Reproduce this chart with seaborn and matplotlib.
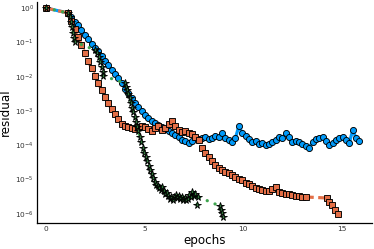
import numpy as np
import matplotlib
matplotlib.use("Agg")
import matplotlib.pyplot as plt
import seaborn as sns
from matplotlib.ticker import NullLocator, FixedLocator

# ---- data (epochs, log10 of residual) ----
blue_epochs = [0, 1.12, 1.29, 1.46, 1.63, 1.80, 1.97, 2.14, 2.31, 2.48, 2.65, 2.82, 2.99, 3.16,
               3.33, 3.50, 3.67, 3.84, 4.01, 4.18, 4.35, 4.52, 4.69, 4.86, 5.03, 5.20, 5.37, 5.54,
               5.71, 5.88, 6.05, 6.22, 6.39, 6.56, 6.73, 6.90, 7.07, 7.24, 7.41, 7.58, 7.75, 7.92,
               8.09, 8.26, 8.43, 8.60, 8.77, 8.94, 9.11, 9.28, 9.45, 9.62, 9.79, 9.96, 10.13, 10.30,
               10.47, 10.64, 10.81, 10.98, 11.15, 11.32, 11.49, 11.66, 11.83, 12.00, 12.17, 12.34,
               12.51, 12.68, 12.85, 13.02, 13.19, 13.36, 13.53, 13.70, 13.87, 14.04, 14.21, 14.38,
               14.55, 14.72, 14.89, 15.06, 15.23, 15.40, 15.57, 15.74, 15.91]
blue_log10 = [0.0, -0.146, -0.262, -0.394, -0.510, -0.641, -0.773, -0.904, -1.035, -1.166, -1.268,
              -1.399, -1.531, -1.662, -1.793, -1.924, -2.041, -2.187, -2.347, -2.478, -2.624, -2.770,
              -2.886, -3.017, -3.120, -3.207, -3.294, -3.353, -3.411, -3.469,
              -3.528, -3.586, -3.644, -3.703, -3.761, -3.848, -3.878, -3.936, -3.878, -3.761, -3.819,
              -3.790, -3.761, -3.819, -3.790, -3.732, -3.761, -3.644, -3.790, -3.848, -3.907, -3.790,
              -3.440, -3.644, -3.732, -3.819, -3.907, -3.878, -3.965, -3.936, -3.994, -3.965, -3.907,
              -3.848, -3.761, -3.790, -3.644, -3.761, -3.907, -3.878, -3.907, -3.965, -4.023, -4.082,
              -3.907, -3.819, -3.790, -3.761, -3.878, -3.994, -3.936, -3.848, -3.790, -3.761, -3.848,
              -3.936, -3.557, -3.790, -3.878]

orange_epochs = [0, 1.12, 1.29, 1.46, 1.63, 1.80, 1.97, 2.14, 2.31, 2.48, 2.65, 2.82, 2.99, 3.16,
                 3.33, 3.50, 3.67, 3.84, 4.01, 4.18, 4.35, 4.52, 4.69, 4.86, 5.03, 5.20, 5.37, 5.54,
                 5.71, 5.88, 6.05, 6.22, 6.39, 6.56, 6.73, 6.90, 7.07, 7.24, 7.41, 7.58, 7.75, 7.92,
                 8.09, 8.26, 8.43, 8.60, 8.77, 8.94, 9.11, 9.28, 9.45, 9.62, 9.79, 9.96, 10.13, 10.30,
                 10.47, 10.64, 10.81, 10.98, 11.15, 11.32, 11.49, 11.66, 11.83, 12.00, 12.17, 12.34,
                 12.51, 12.68, 12.85, 13.02, 13.19, 14.26, 14.39, 14.52, 14.67, 14.82]
orange_log10 = [0.0, -0.146, -0.379, -0.612, -0.845, -1.079, -1.312, -1.545, -1.749, -1.968, -2.172,
                -2.391, -2.595, -2.784, -2.945, -3.090, -3.236, -3.382, -3.440, -3.469, -3.499,
                -3.528, -3.469, -3.440, -3.469, -3.528, -3.586, -3.499, -3.440, -3.557, -3.499,
                -3.382, -3.294, -3.440, -3.557, -3.615, -3.586, -3.644, -3.673, -3.761, -3.848,
                -4.082, -4.227, -4.344, -4.461, -4.577, -4.665, -4.723, -4.781, -4.810, -4.869,
                -4.927, -4.985, -5.015, -5.102, -5.131, -5.190, -5.248, -5.277, -5.306, -5.335,
                -5.335, -5.277, -5.219, -5.364, -5.394, -5.423, -5.423, -5.452, -5.481, -5.481,
                -5.510, -5.510, -5.539, -5.656, -5.743, -5.889, -6.006]

green_epochs = [0, 1.117, 1.193, 1.269, 1.320, 1.371, 1.421, 1.472, 2.487, 2.589, 2.690, 2.766,
                2.843, 2.893, 2.919, 4.010, 4.061, 4.112, 4.162, 4.264, 4.315, 4.391, 4.442, 4.518,
                4.569, 4.645, 4.695, 4.772, 4.848, 4.924, 5.000, 5.076, 5.152, 5.228, 5.305, 5.381,
                5.457, 5.533, 5.609, 5.685, 5.761, 5.838, 5.914, 5.990, 6.066, 6.142, 6.218, 6.294,
                6.371, 6.447, 6.523, 6.599, 6.675, 6.751, 6.827, 6.904, 6.980, 7.056, 7.132, 7.208,
                7.284, 7.360, 7.437, 7.513, 7.589, 7.665, 7.741, 8.832, 8.883, 8.934, 8.985]
green_log10 = [0.0, -0.146, -0.262, -0.408, -0.554, -0.729, -0.875, -0.991, -1.224, -1.312, -1.429,
               -1.574, -1.720, -1.866, -1.983, -2.187, -2.303, -2.391, -2.507, -2.624, -2.770,
               -2.915, -3.032, -3.178, -3.324, -3.469, -3.586, -3.761, -3.907, -4.082, -4.227,
               -4.344, -4.461, -4.606, -4.723, -4.840, -4.956, -5.073, -5.160, -5.190, -5.248,
               -5.306, -5.219, -5.335, -5.423, -5.394, -5.481, -5.569, -5.510, -5.598, -5.510,
               -5.452, -5.539, -5.481, -5.569, -5.510, -5.598, -5.539, -5.598, -5.569, -5.452,
               -5.510, -5.364, -5.481, -5.423, -5.743, -5.510, -5.773, -5.889, -5.977, -6.093]

x_ticks = [0, 5, 10, 15]
y_ticks = [1e0, 1e-1, 1e-2, 1e-3, 1e-4, 1e-5, 1e-6]
x_label = "epochs"
y_label = "residual"

blue_res = 10.0 ** np.array(blue_log10)
orange_res = 10.0 ** np.array(orange_log10)
green_res = 10.0 ** np.array(green_log10)

sns.set_theme(style="white")
plt.rcParams['font.family'] = ['DejaVu Sans']

W, H = 374, 249
fig = plt.figure(figsize=(W / 100, H / 100), dpi=100)
ax = fig.add_axes([37 / W, 1 - 223 / H, 335 / W, 221 / H])
ax.set_yscale("log")

common = dict(ax=ax, sort=False, estimator=None, linewidth=2.3,
              markeredgecolor="black", markeredgewidth=0.65)
sns.lineplot(x=blue_epochs, y=blue_res, color="#009AFA", marker="o", markersize=4.4,
             linestyle="-", **common)
sns.lineplot(x=orange_epochs, y=orange_res, color="#E36F47", marker="s", markersize=4.0,
             linestyle=(0, (2.5, 1.4)), **common)
sns.lineplot(x=green_epochs, y=green_res, color="#3EA44E", marker="*", markersize=5.4,
             markerfacecolor="#2E7D3A", linestyle=(0, (0.05, 2.6)), dash_capstyle="round",
             **common)

ax.set_xlim(-0.457, 16.55)
ax.set_ylim(10 ** -6.268, 10 ** 0.175)
ax.xaxis.set_major_locator(FixedLocator(x_ticks))
ax.yaxis.set_major_locator(FixedLocator(y_ticks))
ax.yaxis.set_minor_locator(NullLocator())
ax.xaxis.set_minor_locator(NullLocator())

for s in ["top", "right"]:
    ax.spines[s].set_visible(False)
for s in ["left", "bottom"]:
    ax.spines[s].set_color("black")
    ax.spines[s].set_linewidth(0.9)

ax.tick_params(axis="both", which="major", direction="in", length=2.5, width=0.6,
               labelsize=5.3, pad=2.2, labelcolor="#333333", color="#333333")
ax.grid(False)

ax.set_xlabel(x_label, fontsize=8.6, color="black")
ax.set_ylabel(y_label, fontsize=8.6, color="black")
ax.xaxis.set_label_coords(0.5, -0.05)
ax.yaxis.set_label_coords(-0.074, 0.5)

fig.savefig("out.png", dpi=100)
